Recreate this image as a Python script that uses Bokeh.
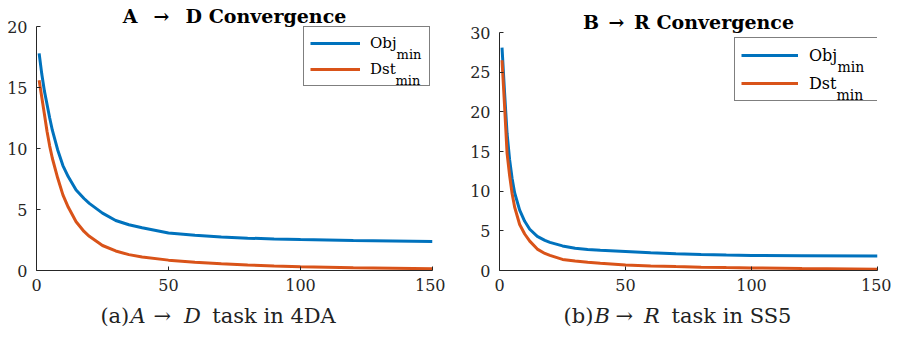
from bokeh.plotting import figure
from bokeh.layouts import row, column
from bokeh.models import Legend, LegendItem, Label, FixedTicker, Range1d, Title
from bokeh.embed import file_html
from bokeh.resources import INLINE

# ---- data ----
iters = [1, 2, 3, 4, 5, 6, 8, 10, 12, 15, 18, 20, 25, 30, 35, 40, 50, 60, 70, 80, 90, 100, 120, 150]
obj_a = [17.8, 16.1, 14.7, 13.6, 12.5, 11.5, 9.9, 8.6, 7.7, 6.6, 5.9, 5.5, 4.7, 4.1, 3.75, 3.5,
         3.08, 2.88, 2.74, 2.65, 2.59, 2.54, 2.46, 2.37]
dst_a = [15.6, 14.2, 12.8, 11.4, 10.2, 9.2, 7.6, 6.2, 5.2, 4.0, 3.2, 2.8, 2.05, 1.6, 1.3, 1.1,
         0.85, 0.68, 0.55, 0.45, 0.37, 0.30, 0.22, 0.15]
obj_b = [28.1, 22.5, 17.3, 14.0, 11.6, 9.8, 7.6, 6.2, 5.2, 4.3, 3.8, 3.55, 3.1, 2.8, 2.65, 2.55,
         2.4, 2.25, 2.12, 2.03, 1.96, 1.9, 1.86, 1.82]
dst_b = [26.5, 20.8, 14.8, 12.0, 9.7, 8.0, 5.8, 4.6, 3.7, 2.7, 2.15, 1.9, 1.4, 1.2, 1.05, 0.92,
         0.70, 0.58, 0.49, 0.42, 0.37, 0.33, 0.24, 0.16]
x_ticks = [0, 50, 100, 150]
y_ticks_a = [0, 5, 10, 15, 20]
y_ticks_b = [0, 5, 10, 15, 20, 25, 30]
titles = ["A\u2002\u00a0\u2192\u2002\u00a0D Convergence", "B\u2002\u2192\u2002R Convergence"]
captions = [["(a)", "A", "\u2192", "D", "task in 4DA"], ["(b)", "B", "\u2192", "R", "task in SS5"]]
series_labels = ["Obj", "Dst"]

BLUE = "#0072BD"
ORANGE = "#D95319"
AX = "#262626"
FONT = "DejaVu Serif"


def panel(width, height, bl, br, bt, bb, ymax, yticks, objv, dstv, title,
          leg_loc, leg_geom, leg_font, sub_font, sub_pos):
    p = figure(width=width, height=height, output_backend="svg", toolbar_location=None,
               x_range=Range1d(0, 150), y_range=Range1d(0, ymax),
               min_border_left=bl, min_border_right=br, min_border_top=bt, min_border_bottom=bb)
    p.outline_line_color = None
    p.grid.visible = False
    p.background_fill_color = "white"
    p.border_fill_color = "white"
    p.title = Title(text=title, align="center", text_font=FONT, text_font_size="19px",
                    text_font_style="bold", text_color="black", standoff=0, offset=0)
    for ax in (p.xaxis[0], p.yaxis[0]):
        ax.axis_line_color = AX
        ax.major_tick_line_color = AX
        ax.minor_tick_line_color = None
        ax.major_tick_in = 4
        ax.major_tick_out = 0
        ax.major_label_text_font = FONT
        ax.major_label_text_font_size = "16px"
        ax.major_label_text_color = "#262626"
    p.xaxis.ticker = FixedTicker(ticks=x_ticks)
    p.yaxis.ticker = FixedTicker(ticks=yticks)
    p.xaxis.major_label_standoff = 8
    p.yaxis.major_label_standoff = 9

    r1 = p.line(iters, objv, line_color=BLUE, line_width=3)
    r2 = p.line(iters, dstv, line_color=ORANGE, line_width=3)

    gw, gh, st, lw = leg_geom
    leg = Legend(items=[LegendItem(label=series_labels[0], renderers=[r1]),
                        LegendItem(label=series_labels[1], renderers=[r2])],
                 location=leg_loc, padding=6, spacing=6, margin=0,
                 glyph_width=gw, glyph_height=gh, label_height=gh, label_width=lw,
                 label_standoff=st, label_text_font=FONT, label_text_font_size=leg_font,
                 label_text_color="black", border_line_color="black", border_line_width=1,
                 background_fill_color="white", background_fill_alpha=0.0, level="underlay")
    p.add_layout(leg)

    for (sx, sy) in sub_pos:
        p.add_layout(Label(x=sx, y=sy, text="min", text_font=FONT, text_font_size=sub_font,
                           text_baseline="alphabetic", text_align="left", text_color="black",
                           level="overlay"))
    return p


def caption_fig(width, height, bl, br, caption, cap_x, cap_y):
    c = figure(width=width, height=height, output_backend="svg", toolbar_location=None,
               x_range=Range1d(0, 150), y_range=Range1d(0, height), title_location=None,
               x_axis_location=None, y_axis_location=None,
               min_border_left=bl, min_border_right=br, min_border_top=0, min_border_bottom=0)
    c.outline_line_color = None
    c.grid.visible = False
    styles = ["normal", "italic", "normal", "italic", "normal"]
    for txt, cx, stl in zip(caption, cap_x, styles):
        c.add_layout(Label(x=cx, y=cap_y, text=txt, text_font=FONT, text_font_size="21px",
                           text_font_style=stl, text_align="left",
                           text_baseline="middle", text_color="#222222"))
    return c


MAIN_H = 298
CAP_H = 32

left = panel(445, MAIN_H, 36, 13, 26, 28, 20, y_ticks_a, obj_a, dst_a, titles[0],
             (267, 184), (50, 20, 10, 53), "15px", "13px",
             [(136.4, 17.70), (136.0, 15.57)])
right = panel(446, MAIN_H, 54, 14, 32, 28, 30, y_ticks_b, obj_b, dst_b, titles[1],
              (235, 169), (57, 22, 11, 64), "16px", "14px",
              [(134.1, 25.65), (133.7, 22.12)])
cap_left = caption_fig(445, CAP_H, 36, 13, captions[0], [24.2, 35.6, 44.3, 55.9, 66.6], 15)
cap_right = caption_fig(446, CAP_H, 54, 14, captions[1], [25.4, 37.7, 46.0, 57.3, 68.3], 15)

layout = row(column(left, cap_left), column(right, cap_right))
open("out.html", "w").write(file_html(layout, INLINE))
